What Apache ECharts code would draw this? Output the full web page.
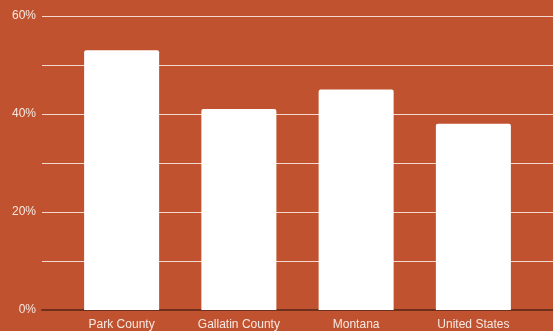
<!DOCTYPE html>
<html>
<head>
<meta charset="utf-8">
<script src="https://cdn.jsdelivr.net/npm/echarts@6/dist/echarts.min.js"></script>
<style>
html, body { margin: 0; padding: 0; background: #c0522f; }
#chart { width: 553px; height: 331px; }
</style>
</head>
<body>
<div id="chart"></div>
<script>
var categories = ['Park County', 'Gallatin County', 'Montana', 'United States'];
var shares = [53, 41, 45, 38];
var yMin = 0, yMax = 60, yStep = 10;

var chart = echarts.init(document.getElementById('chart'));

var option = {
    backgroundColor: '#c0522f',
    animation: false,
    grid: [
        // grid 0 only carries the gridlines and the baseline
        { left: 42, right: 0, top: 16, bottom: 21, containLabel: false },
        // grid 1 holds the bars, a bit narrower like the source
        { left: 63, right: 21, top: 16, bottom: 21, containLabel: false }
    ],
    xAxis: [
        {
            gridIndex: 0,
            type: 'category',
            data: categories,
            axisLine: { show: true, lineStyle: { color: '#6e2f1c', width: 2 } },
            axisTick: { show: false },
            axisLabel: { show: false }
        },
        {
            gridIndex: 1,
            type: 'category',
            data: categories,
            axisLine: { show: false },
            axisTick: { show: false },
            axisLabel: {
                color: '#f7e8e2',
                fontSize: 12,
                fontFamily: 'Liberation Sans, Arial, sans-serif',
                margin: 9
            }
        }
    ],
    yAxis: [
        {
            gridIndex: 0,
            type: 'value',
            min: yMin,
            max: yMax,
            interval: yStep,
            axisLine: { show: false },
            axisTick: { show: false },
            splitLine: { lineStyle: { color: '#f3d6cc', width: 1 } },
            axisLabel: {
                color: '#f7e8e2',
                fontSize: 12,
                fontFamily: 'Liberation Sans, Arial, sans-serif',
                margin: 6,
                padding: [3, 0, 0, 0],
                formatter: function (v) {
                    return v % 20 === 0 ? v + '%' : '';
                }
            }
        },
        {
            gridIndex: 1,
            type: 'value',
            min: yMin,
            max: yMax,
            interval: yStep,
            show: false
        }
    ],
    series: [
        {
            type: 'bar',
            xAxisIndex: 1,
            yAxisIndex: 1,
            barWidth: 75,
            data: shares,
            itemStyle: { color: '#ffffff', borderRadius: [2, 2, 0, 0] }
        }
    ]
};

chart.setOption(option);
</script>
</body>
</html>
